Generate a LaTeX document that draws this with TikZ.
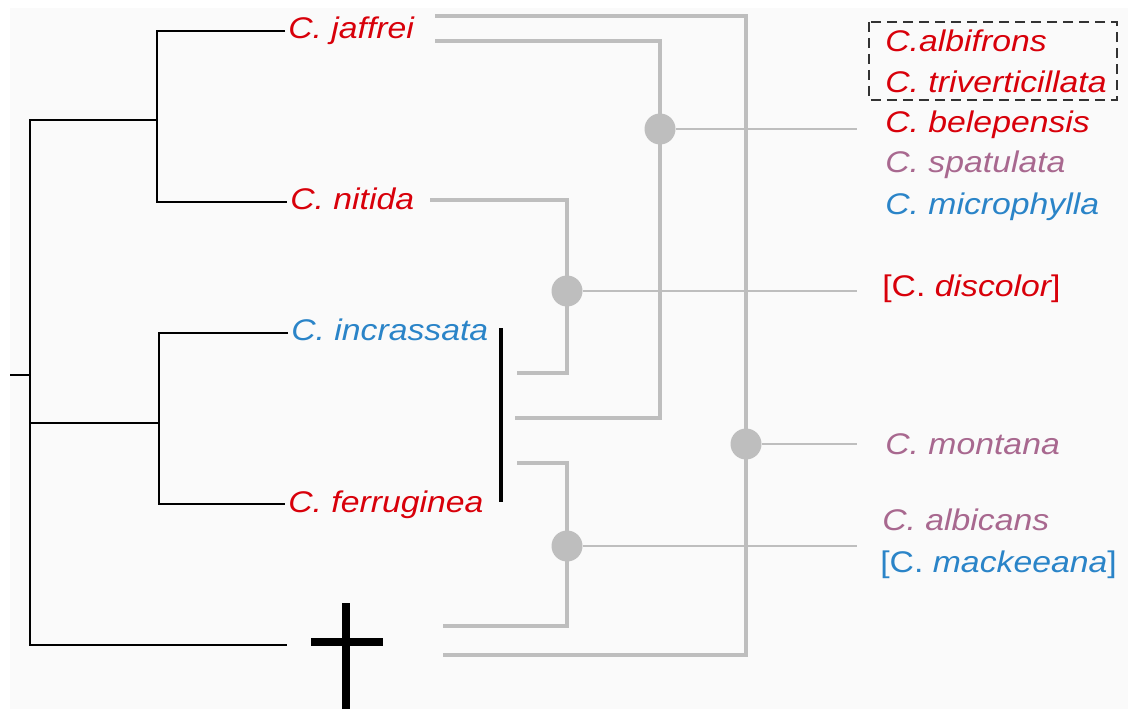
\documentclass[tikz,border=0pt]{standalone}
\usepackage{fontspec}
\setmainfont{Liberation Sans}[FakeStretch=1.13]
\usepackage{tikz}
\usetikzlibrary{positioning}
\definecolor{tax_red}{HTML}{D8000A}
\definecolor{tax_blue}{HTML}{2A84C8}
\definecolor{tax_purple}{HTML}{A8688F}
\definecolor{link_gray}{HTML}{BEBEBE}
\definecolor{panel_gray}{HTML}{FAFAFA}
\newcommand{\taxfont}{\fontsize{17}{20}\selectfont\itshape}
\tikzset{
  taxon/.style={anchor=west, inner xsep=0.06cm, inner ysep=0pt, text height=0.44cm, text depth=0.12cm, font=\taxfont},
  tree/.style={line width=1.1pt, black},
  link/.style={line width=2.8pt, link_gray},
  thinlink/.style={line width=1.4pt, link_gray},
  dot/.style={circle, fill=link_gray, inner sep=0pt, minimum size=0.62cm},
  extinct/.style={line width=5pt, black}
}
\begin{document}
\begin{tikzpicture}[x=0.02cm, y=-0.02cm]
\useasboundingbox (0,0) rectangle (1128,709);
\fill [panel_gray] (10,8) rectangle (1128,709);
% tree of the living species
\coordinate (RootStub) at (10,375);
\coordinate (Root) at (30,375);
\coordinate (TopClade) at (157,120);
\coordinate (LowClade) at (159,423);
\coordinate (Fossil) at (287,645);
\node (jaffrei) [taxon, text = tax_red] at (285,31) {C. jaffrei};
\node (nitida) [taxon, text = tax_red] at (287,202) {C. nitida};
\node (incrassata) [taxon, text = tax_blue] at (288,333) {C. incrassata};
\node (ferruginea) [taxon, text = tax_red] at (285,504) {C. ferruginea};
\draw [tree] (RootStub) -- (Root);
\draw [tree] (TopClade) -| (Root) |- (Fossil);
\draw [tree] (LowClade) -- (LowClade -| Root);
\draw [tree] (jaffrei.west) -| (TopClade) |- (nitida.west);
\draw [tree] (incrassata.west) -| (LowClade) |- (ferruginea.west);
\draw [extinct] (346,603) -- (346,709);
\draw [extinct] (311,642) -- (383,642);
\draw [line width=2.3pt] (501,328) -- (501,502);
% grey links to the groups on the right
\node (DotBel) [dot] at (660,129) {};
\node (DotDis) [dot] at (567,291) {};
\node (DotMon) [dot] at (746,444) {};
\node (DotAlb) [dot] at (567,546) {};
\coordinate (jafA) at (435,16);
\coordinate (jafB) at (435,41);
\coordinate (nitA) at (430,200);
\coordinate (barA) at (517,373);
\coordinate (barB) at (515,418);
\coordinate (barC) at (517,463);
\coordinate (fosA) at (443,626);
\coordinate (fosB) at (443,655);
\draw [link] (jafA) -| (DotMon.center) |- (fosB);
\draw [link] (jafB) -| (DotBel.center) |- (barB);
\draw [link] (nitA) -| (DotDis.center) |- (barA);
\draw [link] (barC) -| (DotAlb.center) |- (fosA);
\coordinate (endBel) at (857,129);
\coordinate (endDis) at (857,291);
\coordinate (endMon) at (857,444);
\coordinate (endAlb) at (857,546);
\draw [thinlink] (DotBel) -- (endBel);
\draw [thinlink] (DotDis) -- (endDis);
\draw [thinlink] (DotMon) -- (endMon);
\draw [thinlink] (DotAlb) -- (endAlb);
% species groups
\node (albifrons) [taxon, text = tax_red] at (882,44) {C.albifrons};
\node (triverticillata) [taxon, text = tax_red] at (882,85) {C. triverticillata};
\node (belepensis) [taxon, text = tax_red] at (882,125) {C. belepensis};
\node (spatulata) [taxon, text = tax_purple] at (882,165) {C. spatulata};
\node (microphylla) [taxon, text = tax_blue] at (882,207) {C. microphylla};
\node (discolor) [taxon, text = tax_red] at (879,289) {{\upshape[C.} discolor{\upshape]}};
\node (montana) [taxon, text = tax_purple] at (882,446) {C. montana};
\node (albicans) [taxon, text = tax_purple] at (879,522) {C. albicans};
\node (mackeeana) [taxon, text = tax_blue] at (877,564) {{\upshape[C.} mackeeana{\upshape]}};
\draw [line width=1.1pt, black!80, dash pattern=on 0.2cm off 0.12cm] (869,22) rectangle (1117,100);
\end{tikzpicture}
\end{document}
